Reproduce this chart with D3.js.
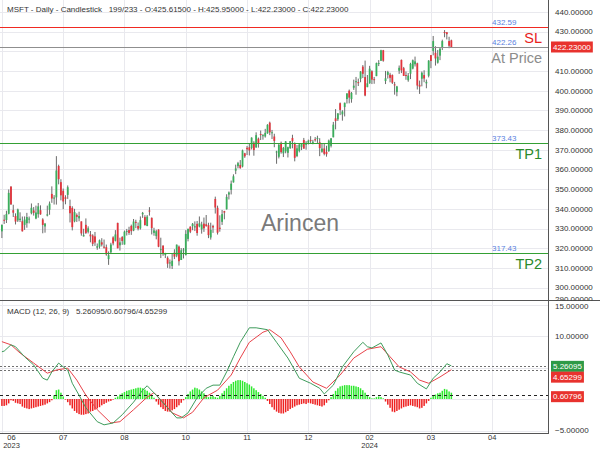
<!DOCTYPE html>
<html><head><meta charset="utf-8">
<script src="https://cdn.jsdelivr.net/npm/d3@7"></script>
<style>body{margin:0;background:#fff;} svg{display:block;font-family:"Liberation Sans",Arial,sans-serif;}</style>
</head><body><svg id="c" width="600" height="450"></svg>
<script>
// ---- DATA (MSFT daily, 12 Jun 2023 .. 26 Mar 2024) ----
const opens = [328.58,334.47,334.34,337.48,351.32,339.31,336.37,334.12,334.36,333.72,331.86,332.71,334.71,337.75,339.19,335.09,337.30,339.32,334.60,331.06,336.60,339.56,347.59,345.68,345.83,361.75,353.57,349.15,345.85,347.11,341.44,340.48,333.67,336.92,335.19,333.63,326.00,331.88,328.37,326.96,326.47,326.02,320.26,320.80,323.00,320.80,320.54,314.49,317.93,325.50,323.82,332.85,321.47,325.66,321.88,328.67,329.20,331.31,329.00,333.38,331.29,330.09,337.24,335.82,331.31,339.15,335.44,327.80,326.17,329.51,319.26,321.32,316.59,315.13,312.30,310.99,317.75,316.28,320.83,314.03,319.09,316.55,324.75,330.96,331.21,330.57,332.38,331.05,329.59,332.49,332.16,331.72,325.47,331.30,345.02,340.54,330.43,333.41,338.85,339.79,347.24,349.63,353.45,359.40,361.68,362.30,361.49,368.22,371.01,371.28,370.96,373.61,371.22,375.67,378.00,377.33,376.78,378.35,383.76,378.49,376.76,369.10,366.45,373.54,368.23,369.20,368.48,370.85,376.02,373.31,366.85,369.45,371.49,375.00,372.56,373.68,375.00,373.69,375.37,376.00,373.86,369.01,370.67,368.97,369.30,372.01,376.37,386.00,385.49,393.66,387.98,391.72,395.76,400.02,395.75,401.54,404.32,404.37,406.06,412.26,406.96,401.83,403.81,409.90,405.88,407.44,414.05,415.25,420.56,404.94,408.07,408.14,407.96,403.24,399.29,410.19,415.67,411.46,407.99,405.35,408.64,411.27,413.44,413.96,402.97,406.12,407.96,403.76,407.62,418.10,420.24,419.29,414.25,417.83,422.00,429.83,429.70,425.24,425.615];
const highs = [332.10,336.99,339.04,349.84,351.47,342.08,337.73,340.12,338.23,336.11,336.15,337.97,336.11,342.73,340.90,341.65,342.99,341.79,335.23,332.85,341.65,343.74,351.43,346.99,366.78,362.46,355.05,350.30,346.92,351.89,344.67,341.33,340.01,337.70,338.54,333.63,329.88,335.14,331.11,328.75,327.11,328.26,322.41,324.42,325.09,324.42,321.87,318.38,322.77,326.08,329.20,332.98,325.36,326.15,328.98,329.81,330.91,331.99,334.85,334.46,333.08,336.16,338.42,336.79,336.85,340.86,335.62,330.40,329.39,329.59,325.35,321.45,317.67,315.88,314.30,317.19,319.47,321.89,321.39,320.04,320.08,329.19,330.01,331.10,332.82,333.63,333.83,336.14,333.46,335.59,336.88,332.95,332.98,331.93,346.20,341.63,336.72,339.45,339.00,347.42,348.83,354.39,357.54,362.46,363.87,364.79,370.10,368.47,371.95,373.13,376.35,374.37,378.87,376.22,379.79,377.97,380.64,383.00,384.30,380.09,378.16,369.52,373.08,374.18,371.45,374.46,371.60,374.42,377.64,373.76,372.40,373.00,373.26,376.03,374.41,375.18,376.94,375.06,376.46,377.16,375.90,373.26,373.10,372.06,375.20,375.99,384.17,390.68,388.68,394.03,390.11,394.00,398.67,400.62,399.38,405.63,407.01,406.17,409.98,413.05,415.32,408.00,412.65,410.41,407.00,414.30,415.56,420.82,420.74,410.07,410.12,409.13,408.29,404.49,402.49,412.83,415.86,412.10,409.78,409.00,414.20,415.87,417.35,414.25,405.16,409.78,410.42,405.68,415.57,418.18,427.82,422.60,420.73,421.67,425.96,430.82,429.86,427.41,425.95];
const lows = [325.16,332.33,332.81,337.20,341.95,335.86,332.07,333.34,333.30,328.49,329.30,330.42,332.62,337.20,336.57,334.73,335.50,337.00,327.59,327.91,336.18,337.00,343.06,342.20,342.17,352.44,344.33,339.83,342.31,345.07,333.11,329.05,333.17,333.36,333.70,326.36,325.95,327.24,327.52,323.00,321.05,321.18,319.21,319.80,320.90,319.80,316.21,311.55,317.04,321.46,323.46,319.96,318.80,321.72,321.88,326.45,326.78,326.78,328.66,330.18,329.03,329.46,335.43,331.48,331.17,336.57,327.00,326.36,324.51,320.51,315.00,316.15,315.00,310.02,309.69,309.45,314.50,315.42,311.21,314.00,314.79,316.30,323.50,327.67,329.14,328.72,326.36,330.60,327.41,328.30,330.91,325.12,324.37,327.80,337.62,326.94,328.40,331.83,334.69,339.65,344.77,347.33,353.35,357.63,360.55,360.36,361.07,365.90,367.35,367.11,370.18,367.00,371.00,371.12,374.97,375.14,376.20,378.16,377.44,375.47,371.31,362.90,365.62,368.03,366.32,368.23,366.10,370.46,370.77,364.13,366.28,368.68,369.84,370.53,370.04,372.71,373.50,372.81,374.16,373.48,366.77,368.51,367.17,366.50,369.01,371.19,376.32,380.38,384.65,387.62,384.81,386.95,393.50,393.59,393.93,400.45,397.99,402.40,404.33,406.45,397.21,401.80,403.56,403.39,403.55,407.40,412.53,415.09,414.75,403.39,406.19,404.29,403.44,398.01,397.22,408.57,408.97,407.54,405.58,404.57,405.92,410.88,412.32,400.64,398.39,402.24,404.33,401.26,406.79,411.45,417.99,412.79,413.78,415.55,420.66,427.16,426.07,421.61,422.23];
const closes = [331.85,334.29,337.34,348.10,342.33,338.05,333.56,339.71,335.02,328.60,334.57,335.85,335.05,340.54,337.99,338.15,341.27,337.22,331.83,332.47,337.20,342.66,345.24,345.73,359.49,355.08,346.87,343.77,345.11,350.98,337.77,330.72,338.37,335.92,336.34,327.50,326.66,327.78,330.11,326.05,322.23,322.93,321.01,324.04,321.86,320.40,316.88,316.48,321.88,322.46,327.00,319.97,322.98,323.70,328.41,328.79,327.76,328.66,333.55,332.88,329.91,334.27,337.94,331.77,336.06,338.70,330.22,329.06,328.65,320.77,319.53,317.01,317.54,312.14,312.79,313.64,315.75,321.80,313.39,318.96,319.36,327.26,329.82,328.39,332.42,331.16,327.73,332.64,332.06,330.11,331.32,326.67,329.32,330.53,340.67,327.89,329.81,337.31,338.11,346.07,348.32,352.80,356.53,360.53,363.20,360.69,369.67,366.68,370.27,369.67,376.17,369.85,377.44,373.07,377.85,377.43,378.61,382.70,378.85,378.91,374.51,369.14,372.52,368.80,370.95,374.23,371.30,374.38,374.37,365.93,370.73,372.65,373.26,370.62,373.54,374.58,374.66,374.07,375.28,376.04,370.87,370.60,367.94,367.75,374.69,375.79,382.77,384.63,388.47,390.27,389.47,393.87,398.67,396.51,398.90,402.56,404.87,403.93,409.72,408.59,397.58,403.78,411.22,405.65,405.49,414.05,414.11,420.55,415.26,406.32,409.49,406.56,404.06,402.79,402.18,411.65,410.34,407.54,407.48,407.72,413.64,415.50,414.92,402.65,402.09,409.14,406.22,404.52,415.28,415.10,425.22,416.42,417.32,421.41,425.23,429.37,428.74,422.86,422.23];

// MACD (12,26,9)
const macdIdx = [0,1,4,6,10,14,18,20,22,25,27,29,31,34,37,42,45,49,53,58,62,64,68,73,77,79,82,86,90,93,96,99,102,105,109,112,117,121,126,129,131,136,140,142,146,150,155,159,161,163,167,170,173,175,180,183,187,190,193,196,198];
const macdVal = [7.5,7.6,8.6,8.3,6.7,5.4,3.3,3.0,4.3,5.7,5.1,4.6,2.5,0.6,-1.4,-3.6,-4.1,-3.8,-2.5,-0.5,1.4,2.1,0.6,-1.4,-3.0,-3.0,-2.2,0.2,1.7,2.2,2.2,4.3,6.7,9.0,11.3,11.3,11.0,9.0,6.5,4.6,3.3,2.5,1.7,0.8,2.2,5.1,7.5,9.0,8.3,8.1,8.9,7.0,4.6,4.3,3.8,2.5,1.6,3.3,4.3,5.6,5.26];
const sigIdx = [0,4,8,14,20,24,29,33,37,42,48,52,58,64,67,71,75,80,84,89,95,101,105,109,115,118,123,127,131,137,143,149,155,161,167,171,175,180,184,188,193,198];
const sigVal = [9.1,8.6,7.3,5.7,4.1,4.6,4.9,3.0,0.6,-1.7,-3.8,-3.6,-1.7,0.3,1.0,-0.5,-2.2,-3.0,-2.1,0.2,1.4,3.8,6.5,9.0,10.6,11.0,9.7,7.5,5.1,2.7,1.7,3.8,6.5,7.9,8.3,6.7,5.1,4.3,3.0,2.5,3.5,4.65];
const histVal = [-1.1,-1.1,-1.0,-0.7,-0.2,-0.3,-0.6,-0.7,-0.8,-1.2,-1.4,-1.5,-1.6,-1.5,-1.4,-1.3,-1.2,-1.1,-1.0,-0.9,-0.7,-0.5,-0.2,
 0.6,1.4,1.5,1.0,0.4,
 -0.1,-0.5,-1.0,-1.5,-1.9,-2.2,-2.4,-2.5,-2.5,-2.4,-2.3,-2.0,-1.9,-1.7,-1.5,-1.3,-1.0,-0.8,-0.6,-0.4,-0.3,-0.1,
 0.2,0.4,0.7,0.9,1.1,1.3,1.4,1.5,1.6,1.7,1.8,1.8,1.7,1.5,1.3,1.0,0.6,0.2,
 -0.4,-0.9,-1.3,-1.6,-1.9,-2.0,-2.0,-1.8,-1.6,-1.3,-1.0,-0.6,-0.2,
 0.3,0.8,1.2,1.5,1.8,1.7,1.5,1.2,0.9,0.6,0.3,0.4,0.5,0.3,0.2,0.5,0.9,
 1.3,1.7,2.1,2.4,2.7,2.9,3.0,3.0,2.9,2.7,2.5,2.3,2.0,1.7,1.4,1.1,0.8,0.5,0.2,
 -0.3,-0.8,-1.3,-1.7,-2.0,-2.2,-2.3,-2.3,-2.1,-1.9,-1.6,-1.4,-1.2,-1.0,-0.9,-0.8,-0.7,-0.8,-0.6,-0.7,-0.8,-0.9,-1.0,-1.1,-1.2,-1.0,-0.6,-0.2,
 0.3,0.8,1.3,1.7,2.0,2.1,2.2,2.2,2.2,2.1,2.1,2.0,1.9,1.7,1.4,1.0,0.6,0.3,0.1,0.1,0.3,0.4,0.3,0.1,
 -0.4,-0.9,-1.4,-2.0,-2.1,-1.9,-1.7,-1.5,-1.3,-1.2,-1.1,-1.0,-1.1,-1.2,-1.3,-1.5,-1.4,-1.1,-0.7,-0.3,
 0.2,0.5,0.7,0.9,1.0,1.3,1.6,1.5,1.2,1.0];
const macdLast = 5.26095, histLast = 0.60796, sigLast = 4.65299;

// axis ticks / labels
const priceTicks = [290,300,310,320,330,340,350,360,370,380,390,400,410,420,430,440];
const macdTicks = [-5,0,5,10,15];
const xTickIdx = [0,27,54,81,108,135,162,189,216];
const xTickMonth = ["06","07","08","10","11","12","02","03","04"];
const xTickYear = ["2023","","","","","","2024","",""];
const totalSlots = 233;

// levels
const levelNames = ["SL","At Price","TP1","TP2"];
const levelValues = [432.59,422.26,373.43,317.43];
const levelColors = ["#f02a22","#8f8f8f","#34a034","#34a034"];
const levelTextColors = ["#e8231c","#8c8c8c","#2a8a2a","#2a8a2a"];
const lastPrice = 422.23;
const headerText = "MSFT - Daily - Candlestick   199/233 - O:425.61500 - H:425.95000 - L:422.23000 - C:422.23000";
const macdText = "MACD (12, 26, 9)   5.26095/0.60796/4.65299";

// ---- LAYOUT ----
const svg = d3.select("#c");
const R = 548, pTop = 0, pBot = 300.5, mTop = 301, mBot = 433;
const x = d3.scaleLinear().domain([0, totalSlots - 1]).range([1.9, 1.9 + 2.27 * (totalSlots - 1)]);
const yP = d3.scaleLinear().domain([293.7, 446.1]).range([300, 0]);
const yM = d3.scaleLinear().domain([(399 - mBot) / 6.3, (399 - mTop) / 6.3]).range([mBot, mTop]);
const f5 = d3.format(".5f");

const defs = svg.append("defs");
defs.append("clipPath").attr("id","cp").append("rect").attr("x",0).attr("y",pTop).attr("width",R).attr("height",pBot-pTop);
defs.append("clipPath").attr("id","cm").append("rect").attr("x",0).attr("y",mTop).attr("width",R).attr("height",mBot-mTop);
defs.append("clipPath").attr("id","cpa").append("rect").attr("x",R).attr("y",0).attr("width",600-R).attr("height",pBot);
defs.append("clipPath").attr("id","cma").append("rect").attr("x",R).attr("y",pBot).attr("width",600-R).attr("height",mBot-pBot+1);

// grid
const grid = svg.append("g").attr("fill","#e9e9ee");
grid.selectAll(".gv").data(xTickIdx).join("rect")
  .attr("x",d=>Math.round(x(d))).attr("width",1).attr("y",0).attr("height",mBot);
grid.selectAll(".gh").data(priceTicks.filter(t=>yP(t)<pBot)).join("rect")
  .attr("x",0).attr("width",R).attr("y",d=>Math.round(yP(d))).attr("height",1);
grid.selectAll(".gm").data(macdTicks).join("rect")
  .attr("x",0).attr("width",R).attr("y",d=>Math.round(yM(d))).attr("height",1);

// watermark
svg.append("text").attr("x",300).attr("y",231).attr("text-anchor","middle")
  .attr("font-size",23).attr("fill","#7a7a7a").text("Arincen");

// candles
const cg = svg.append("g").attr("clip-path","url(#cp)");
const idx = d3.range(closes.length);
cg.selectAll(".w").data(idx).join("line")
  .attr("x1",i=>x(i)).attr("x2",i=>x(i))
  .attr("y1",i=>yP(highs[i])).attr("y2",i=>yP(lows[i]))
  .attr("stroke","#6b6b6b").attr("stroke-width",1);
cg.selectAll(".b").data(idx).join("rect")
  .attr("x",i=>x(i)-0.9).attr("width",1.8)
  .attr("y",i=>yP(Math.max(opens[i],closes[i])))
  .attr("height",i=>Math.max(1,Math.abs(yP(opens[i])-yP(closes[i]))))
  .attr("fill",i=>closes[i]>=opens[i]?"#3aae5c":"#e3343c");

// level lines (drawn as 1px filled strips)
const lv = svg.append("g");
levelValues.forEach((v,i)=>{
  const yy = Math.round(yP(v));
  lv.append("rect").attr("x",0).attr("width",R).attr("y",yy).attr("height",1)
    .attr("fill",levelColors[i]);
  svg.append("text").attr("x",492).attr("y",yy-2).attr("font-size",8).attr("fill","#5b7fe0")
    .text(v.toFixed(2));
  svg.append("text").attr("x",542).attr("y",yy+16).attr("text-anchor","end")
    .attr("font-size",14.5).attr("fill",levelTextColors[i])
    .text(levelNames[i]);
});

// MACD panel
const mg = svg.append("g").attr("clip-path","url(#cm)");
mg.selectAll(".h").data(idx).join("rect")
  .attr("x",i=>x(i)-0.75).attr("width",1.5)
  .attr("y",i=>yM(Math.max(0,histVal[i])))
  .attr("height",i=>Math.abs(yM(histVal[i])-yM(0)))
  .attr("fill",i=>histVal[i]>=0?"#2ee82e":"#ee2222");
const dash = (v,col,da)=>mg.append("line").attr("x1",0).attr("x2",R)
  .attr("y1",Math.round(yM(v))+0.5).attr("y2",Math.round(yM(v))+0.5).attr("stroke",col).attr("stroke-width",1).attr("stroke-dasharray",da);
dash(macdLast,"#707070","2,2");
dash(sigLast,"#707070","2,2");
dash(histLast,"#222","3,3");
const line = d3.line().x(d=>x(d[0])).y(d=>yM(d[1]));
mg.append("path").datum(sigIdx.map((d,k)=>[d,sigVal[k]])).attr("d",line)
  .attr("fill","none").attr("stroke","#e8434a").attr("stroke-width",1);
mg.append("path").datum(macdIdx.map((d,k)=>[d,macdVal[k]])).attr("d",line)
  .attr("fill","none").attr("stroke","#3f9c5c").attr("stroke-width",1);

// frame lines
const fr = svg.append("g").attr("fill","#555");
fr.append("rect").attr("x",R).attr("width",1).attr("y",0).attr("height",mBot);
fr.append("rect").attr("x",0).attr("width",600).attr("y",300).attr("height",1);
fr.append("rect").attr("x",0).attr("width",R+1).attr("y",mBot).attr("height",1);

// value boxes (positions)
const boxes = [
  {y: yP(lastPrice), col: "#e8322e", txt: f5(lastPrice)},
  {y: yM(macdLast)+0.5, col: "#2e9a46", txt: macdLast.toFixed(5)},
  {y: yM(macdLast)+11.3, col: "#e8322e", txt: sigLast.toFixed(5)},
  {y: yM(histLast)+1.5, col: "#e8322e", txt: histLast.toFixed(5)}
];
const near = yy => boxes.some(b => Math.abs(b.y - yy) < 9);

// right axes labels (labels hidden behind value boxes are left out)
const pa = svg.append("g").attr("clip-path","url(#cpa)");
pa.selectAll("text").data(priceTicks.filter(d=>!near(yP(d)))).join("text")
  .attr("x",555).attr("y",d=>Math.min(yP(d),299)).attr("dy","0.35em")
  .attr("font-size",8).attr("fill","#333").text(d=>f5(d));
const ma = svg.append("g").attr("clip-path","url(#cma)");
ma.selectAll("text").data(macdTicks.filter(d=>!near(yM(d)))).join("text")
  .attr("x",555).attr("y",d=>Math.min(Math.max(yM(d),306),432)).attr("dy","0.35em")
  .attr("font-size",8).attr("fill","#333").text(d=>f5(d));

boxes.forEach(b=>{
  const r = svg.append("rect").attr("x",551).attr("y",b.y-5.5).attr("height",11).attr("fill",b.col);
  const t = svg.append("text").attr("x",553).attr("y",b.y).attr("dy","0.35em").attr("font-size",8).attr("fill","#fff").text(b.txt);
  r.attr("width", t.node().getComputedTextLength()+4);
});

// x axis
const xa = svg.append("g").attr("font-size",7.5).attr("fill","#333").attr("text-anchor","middle");
xTickIdx.forEach((d,k)=>{
  const xx = Math.max(x(d), 11.5);
  xa.append("text").attr("x",xx).attr("y",439.5).text(xTickMonth[k]);
  if (xTickYear[k]) xa.append("text").attr("x",xx).attr("y",448).text(xTickYear[k]);
});

// titles
svg.append("text").attr("x",7).attr("y",12).attr("font-size",8).attr("fill","#333").style("white-space","pre").text(headerText);
svg.append("text").attr("x",7).attr("y",314).attr("font-size",8).attr("fill","#333").style("white-space","pre").text(macdText);
</script></body></html>
